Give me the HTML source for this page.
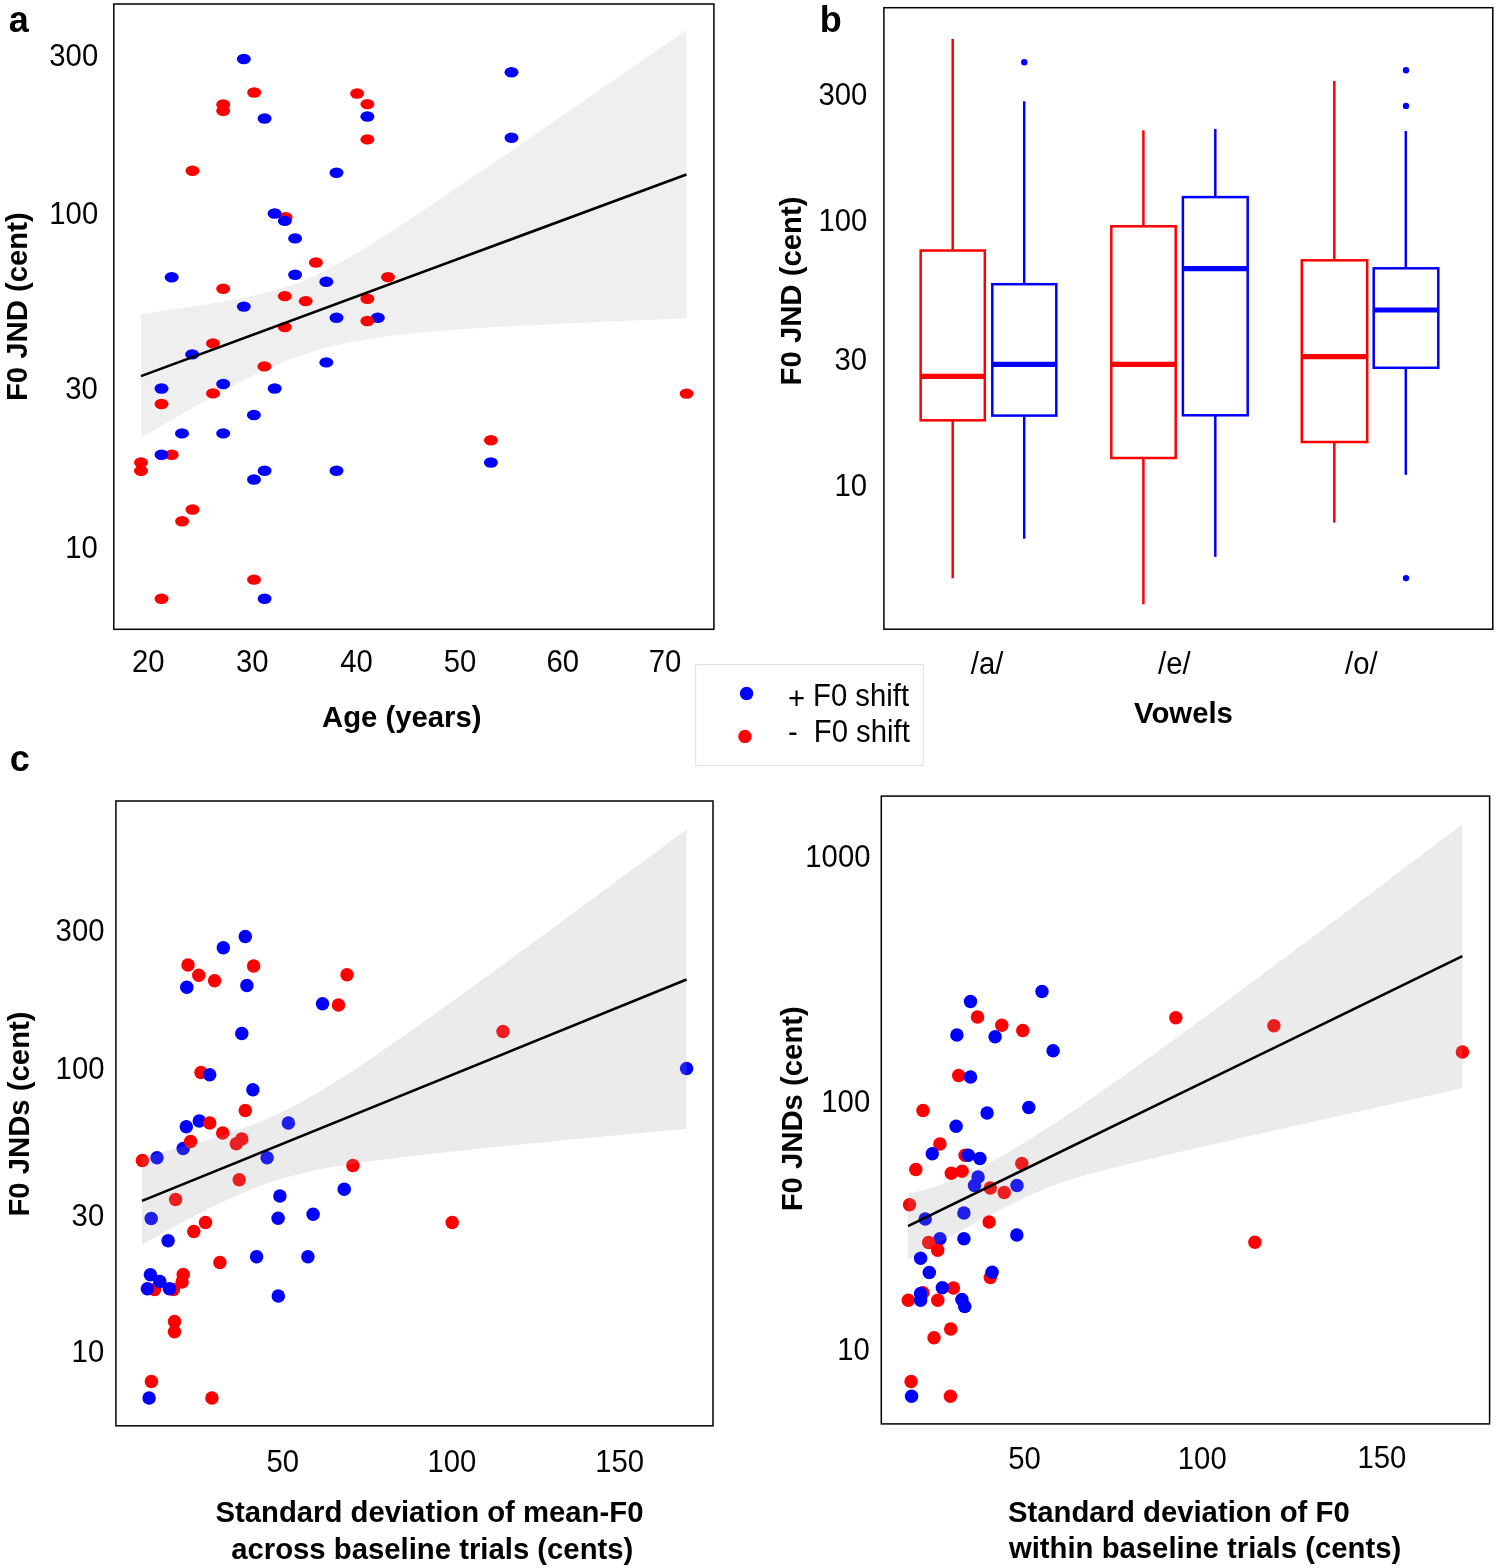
<!DOCTYPE html>
<html><head><meta charset="utf-8"><style>
html,body{margin:0;padding:0;background:#fff;}
svg{display:block;font-family:"Liberation Sans",sans-serif;will-change:transform;}
</style></head><body>
<svg width="1498" height="1568" viewBox="0 0 1498 1568">
<rect x="0" y="0" width="1498" height="1568" fill="#fff"/>
<polygon points="141.00,314.10 147.82,313.14 154.63,312.17 161.45,311.19 168.27,310.19 175.09,309.19 181.91,308.17 188.72,307.13 195.54,306.07 202.36,304.99 209.18,303.88 215.99,302.74 222.81,301.56 229.63,300.34 236.44,299.07 243.26,297.73 250.08,296.33 256.90,294.83 263.71,293.23 270.53,291.51 277.35,289.64 284.17,287.60 290.99,285.37 297.80,282.92 304.62,280.25 311.44,277.34 318.25,274.21 325.07,270.87 331.89,267.33 338.71,263.62 345.52,259.76 352.34,255.78 359.16,251.69 365.98,247.51 372.79,243.26 379.61,238.95 386.43,234.58 393.25,230.17 400.06,225.73 406.88,221.25 413.70,216.75 420.52,212.22 427.33,207.67 434.15,203.11 440.97,198.52 447.79,193.93 454.60,189.32 461.42,184.71 468.24,180.08 475.06,175.45 481.88,170.81 488.69,166.16 495.51,161.50 502.33,156.85 509.14,152.18 515.96,147.51 522.78,142.84 529.60,138.16 536.41,133.48 543.23,128.80 550.05,124.11 556.87,119.42 563.68,114.73 570.50,110.03 577.32,105.34 584.14,100.64 590.96,95.94 597.77,91.24 604.59,86.53 611.41,81.83 618.23,77.12 625.04,72.41 631.86,67.71 638.68,63.00 645.50,58.28 652.31,53.57 659.13,48.86 665.95,44.14 672.76,39.43 679.58,34.71 686.40,30.00 686.40,318.50 679.58,318.75 672.76,319.01 665.95,319.28 659.13,319.54 652.31,319.81 645.50,320.07 638.68,320.35 631.86,320.62 625.04,320.90 618.23,321.18 611.41,321.46 604.59,321.75 597.77,322.04 590.96,322.34 584.14,322.64 577.32,322.94 570.50,323.25 563.68,323.56 556.87,323.88 550.05,324.21 543.23,324.54 536.41,324.88 529.60,325.23 522.78,325.59 515.96,325.95 509.14,326.32 502.33,326.71 495.51,327.10 488.69,327.51 481.88,327.93 475.06,328.37 468.24,328.82 461.42,329.29 454.60,329.78 447.79,330.30 440.97,330.83 434.15,331.39 427.33,331.99 420.52,332.61 413.70,333.27 406.88,333.98 400.06,334.72 393.25,335.52 386.43,336.38 379.61,337.30 372.79,338.29 365.98,339.37 359.16,340.53 352.34,341.79 345.52,343.16 338.71,344.64 331.89,346.26 325.07,348.01 318.25,349.91 311.44,351.95 304.62,354.15 297.80,356.51 290.99,359.02 284.17,361.68 277.35,364.48 270.53,367.43 263.71,370.49 256.90,373.68 250.08,376.97 243.26,380.36 236.44,383.84 229.63,387.40 222.81,391.03 215.99,394.72 209.18,398.47 202.36,402.27 195.54,406.12 188.72,410.00 181.91,413.93 175.09,417.88 168.27,421.87 161.45,425.88 154.63,429.91 147.82,433.97 141.00,438.05" fill="#efefef"/>
<ellipse cx="254.20" cy="92.50" rx="7.0" ry="5.2" fill="#ff0000"/>
<ellipse cx="223.20" cy="104.50" rx="7.0" ry="5.2" fill="#ff0000"/>
<ellipse cx="223.20" cy="110.70" rx="7.0" ry="5.2" fill="#ff0000"/>
<ellipse cx="357.10" cy="93.50" rx="7.0" ry="5.2" fill="#ff0000"/>
<ellipse cx="367.40" cy="104.10" rx="7.0" ry="5.2" fill="#ff0000"/>
<ellipse cx="367.40" cy="139.40" rx="7.0" ry="5.2" fill="#ff0000"/>
<ellipse cx="192.50" cy="170.80" rx="7.0" ry="5.2" fill="#ff0000"/>
<ellipse cx="285.60" cy="217.30" rx="7.0" ry="5.2" fill="#ff0000"/>
<ellipse cx="315.90" cy="262.50" rx="7.0" ry="5.2" fill="#ff0000"/>
<ellipse cx="388.00" cy="277.10" rx="7.0" ry="5.2" fill="#ff0000"/>
<ellipse cx="223.20" cy="288.70" rx="7.0" ry="5.2" fill="#ff0000"/>
<ellipse cx="284.80" cy="296.10" rx="7.0" ry="5.2" fill="#ff0000"/>
<ellipse cx="305.70" cy="301.10" rx="7.0" ry="5.2" fill="#ff0000"/>
<ellipse cx="367.40" cy="298.70" rx="7.0" ry="5.2" fill="#ff0000"/>
<ellipse cx="284.80" cy="327.10" rx="7.0" ry="5.2" fill="#ff0000"/>
<ellipse cx="213.00" cy="343.40" rx="7.0" ry="5.2" fill="#ff0000"/>
<ellipse cx="264.40" cy="366.40" rx="7.0" ry="5.2" fill="#ff0000"/>
<ellipse cx="213.00" cy="393.40" rx="7.0" ry="5.2" fill="#ff0000"/>
<ellipse cx="161.50" cy="404.00" rx="7.0" ry="5.2" fill="#ff0000"/>
<ellipse cx="686.60" cy="393.60" rx="7.0" ry="5.2" fill="#ff0000"/>
<ellipse cx="171.70" cy="454.70" rx="7.0" ry="5.2" fill="#ff0000"/>
<ellipse cx="141.00" cy="462.50" rx="7.0" ry="5.2" fill="#ff0000"/>
<ellipse cx="141.00" cy="470.70" rx="7.0" ry="5.2" fill="#ff0000"/>
<ellipse cx="192.50" cy="509.50" rx="7.0" ry="5.2" fill="#ff0000"/>
<ellipse cx="182.10" cy="521.20" rx="7.0" ry="5.2" fill="#ff0000"/>
<ellipse cx="254.00" cy="579.60" rx="7.0" ry="5.2" fill="#ff0000"/>
<ellipse cx="161.50" cy="598.70" rx="7.0" ry="5.2" fill="#ff0000"/>
<ellipse cx="490.90" cy="440.30" rx="7.0" ry="5.2" fill="#ff0000"/>
<ellipse cx="243.80" cy="59.00" rx="7.0" ry="5.2" fill="#0000ff"/>
<ellipse cx="264.60" cy="118.50" rx="7.0" ry="5.2" fill="#0000ff"/>
<ellipse cx="367.40" cy="116.50" rx="7.0" ry="5.2" fill="#0000ff"/>
<ellipse cx="336.50" cy="172.80" rx="7.0" ry="5.2" fill="#0000ff"/>
<ellipse cx="274.60" cy="213.50" rx="7.0" ry="5.2" fill="#0000ff"/>
<ellipse cx="284.80" cy="220.90" rx="7.0" ry="5.2" fill="#0000ff"/>
<ellipse cx="511.50" cy="72.30" rx="7.0" ry="5.2" fill="#0000ff"/>
<ellipse cx="511.50" cy="137.80" rx="7.0" ry="5.2" fill="#0000ff"/>
<ellipse cx="295.10" cy="238.40" rx="7.0" ry="5.2" fill="#0000ff"/>
<ellipse cx="171.70" cy="277.30" rx="7.0" ry="5.2" fill="#0000ff"/>
<ellipse cx="295.10" cy="274.70" rx="7.0" ry="5.2" fill="#0000ff"/>
<ellipse cx="326.30" cy="281.70" rx="7.0" ry="5.2" fill="#0000ff"/>
<ellipse cx="243.80" cy="306.60" rx="7.0" ry="5.2" fill="#0000ff"/>
<ellipse cx="336.50" cy="317.70" rx="7.0" ry="5.2" fill="#0000ff"/>
<ellipse cx="377.80" cy="317.70" rx="7.0" ry="5.2" fill="#0000ff"/>
<ellipse cx="192.20" cy="354.40" rx="7.0" ry="5.2" fill="#0000ff"/>
<ellipse cx="326.30" cy="362.40" rx="7.0" ry="5.2" fill="#0000ff"/>
<ellipse cx="223.20" cy="384.00" rx="7.0" ry="5.2" fill="#0000ff"/>
<ellipse cx="161.50" cy="388.50" rx="7.0" ry="5.2" fill="#0000ff"/>
<ellipse cx="274.70" cy="388.50" rx="7.0" ry="5.2" fill="#0000ff"/>
<ellipse cx="253.90" cy="415.00" rx="7.0" ry="5.2" fill="#0000ff"/>
<ellipse cx="182.00" cy="433.40" rx="7.0" ry="5.2" fill="#0000ff"/>
<ellipse cx="223.20" cy="433.40" rx="7.0" ry="5.2" fill="#0000ff"/>
<ellipse cx="161.50" cy="454.70" rx="7.0" ry="5.2" fill="#0000ff"/>
<ellipse cx="264.60" cy="470.70" rx="7.0" ry="5.2" fill="#0000ff"/>
<ellipse cx="254.00" cy="479.50" rx="7.0" ry="5.2" fill="#0000ff"/>
<ellipse cx="336.50" cy="470.70" rx="7.0" ry="5.2" fill="#0000ff"/>
<ellipse cx="264.60" cy="598.70" rx="7.0" ry="5.2" fill="#0000ff"/>
<ellipse cx="490.90" cy="462.50" rx="7.0" ry="5.2" fill="#0000ff"/>
<ellipse cx="367.40" cy="321.00" rx="7.0" ry="5.2" fill="#ff0000"/>
<line x1="141.00" y1="376.10" x2="686.40" y2="174.57" stroke="#000" stroke-width="2.6" stroke-linecap="butt"/>
<rect x="113.80" y="4.00" width="600.10" height="625.30" fill="none" stroke="#000" stroke-width="1.5"/>
<text x="8.80" y="32.00" font-weight="bold" font-size="36">a</text>
<text transform="translate(49.30,65.65) scale(1,1.045)" font-weight="normal" font-size="29.3">300</text>
<text transform="translate(49.30,223.50) scale(1,1.045)" font-weight="normal" font-size="29.3">100</text>
<text transform="translate(65.30,399.10) scale(1,1.045)" font-weight="normal" font-size="29.3">30</text>
<text transform="translate(65.30,558.25) scale(1,1.045)" font-weight="normal" font-size="29.3">10</text>
<text transform="translate(132.00,672.20) scale(1,1.045)" font-weight="normal" font-size="29.3">20</text>
<text transform="translate(236.00,672.20) scale(1,1.045)" font-weight="normal" font-size="29.3">30</text>
<text transform="translate(340.30,672.20) scale(1,1.045)" font-weight="normal" font-size="29.3">40</text>
<text transform="translate(443.70,672.20) scale(1,1.045)" font-weight="normal" font-size="29.3">50</text>
<text transform="translate(546.40,672.20) scale(1,1.045)" font-weight="normal" font-size="29.3">60</text>
<text transform="translate(648.80,672.20) scale(1,1.045)" font-weight="normal" font-size="29.3">70</text>
<text transform="translate(322.00,726.80) scale(1,1.03)" font-weight="bold" font-size="29.3">Age (years)</text>
<text transform="translate(26.80,401.05) rotate(-90) scale(1,1.03)" font-weight="bold" font-size="29.3">F0 JND (cent)</text>
<line x1="952.70" y1="39.00" x2="952.70" y2="250.50" stroke="#ff0000" stroke-width="2.5" stroke-linecap="butt"/>
<line x1="952.70" y1="420.30" x2="952.70" y2="578.30" stroke="#ff0000" stroke-width="2.5" stroke-linecap="butt"/>
<rect x="920.65" y="250.50" width="64.15" height="169.80" fill="none" stroke="#ff0000" stroke-width="2.5"/>
<line x1="920.65" y1="376.30" x2="984.80" y2="376.30" stroke="#ff0000" stroke-width="5.2" stroke-linecap="butt"/>
<line x1="1024.20" y1="101.30" x2="1024.20" y2="284.20" stroke="#0000ff" stroke-width="2.5" stroke-linecap="butt"/>
<line x1="1024.20" y1="415.60" x2="1024.20" y2="538.70" stroke="#0000ff" stroke-width="2.5" stroke-linecap="butt"/>
<rect x="992.30" y="284.20" width="64.00" height="131.40" fill="none" stroke="#0000ff" stroke-width="2.5"/>
<line x1="992.30" y1="364.40" x2="1056.30" y2="364.40" stroke="#0000ff" stroke-width="5.2" stroke-linecap="butt"/>
<line x1="1143.40" y1="130.30" x2="1143.40" y2="226.30" stroke="#ff0000" stroke-width="2.5" stroke-linecap="butt"/>
<line x1="1143.40" y1="458.00" x2="1143.40" y2="604.30" stroke="#ff0000" stroke-width="2.5" stroke-linecap="butt"/>
<rect x="1111.30" y="226.30" width="64.40" height="231.70" fill="none" stroke="#ff0000" stroke-width="2.5"/>
<line x1="1111.30" y1="364.40" x2="1175.70" y2="364.40" stroke="#ff0000" stroke-width="5.2" stroke-linecap="butt"/>
<line x1="1215.30" y1="128.90" x2="1215.30" y2="197.10" stroke="#0000ff" stroke-width="2.5" stroke-linecap="butt"/>
<line x1="1215.30" y1="415.30" x2="1215.30" y2="556.80" stroke="#0000ff" stroke-width="2.5" stroke-linecap="butt"/>
<rect x="1182.90" y="197.10" width="64.80" height="218.20" fill="none" stroke="#0000ff" stroke-width="2.5"/>
<line x1="1182.90" y1="268.70" x2="1247.70" y2="268.70" stroke="#0000ff" stroke-width="5.2" stroke-linecap="butt"/>
<line x1="1334.30" y1="80.90" x2="1334.30" y2="260.30" stroke="#ff0000" stroke-width="2.5" stroke-linecap="butt"/>
<line x1="1334.30" y1="442.00" x2="1334.30" y2="522.70" stroke="#ff0000" stroke-width="2.5" stroke-linecap="butt"/>
<rect x="1301.80" y="260.30" width="65.40" height="181.70" fill="none" stroke="#ff0000" stroke-width="2.5"/>
<line x1="1301.80" y1="356.70" x2="1367.20" y2="356.70" stroke="#ff0000" stroke-width="5.2" stroke-linecap="butt"/>
<line x1="1405.80" y1="131.00" x2="1405.80" y2="268.30" stroke="#0000ff" stroke-width="2.5" stroke-linecap="butt"/>
<line x1="1405.80" y1="367.80" x2="1405.80" y2="474.80" stroke="#0000ff" stroke-width="2.5" stroke-linecap="butt"/>
<rect x="1373.70" y="268.30" width="64.60" height="99.50" fill="none" stroke="#0000ff" stroke-width="2.5"/>
<line x1="1373.70" y1="310.00" x2="1438.30" y2="310.00" stroke="#0000ff" stroke-width="5.2" stroke-linecap="butt"/>
<circle cx="1406.00" cy="70.30" r="3.2" fill="#0000ff"/>
<circle cx="1406.00" cy="105.90" r="3.2" fill="#0000ff"/>
<circle cx="1406.00" cy="578.10" r="3.2" fill="#0000ff"/>
<circle cx="1024.30" cy="62.20" r="3.2" fill="#0000ff"/>
<rect x="883.90" y="7.70" width="608.90" height="621.50" fill="none" stroke="#000" stroke-width="1.5"/>
<text x="819.70" y="31.90" font-weight="bold" font-size="36">b</text>
<text transform="translate(818.50,104.55) scale(1,1.045)" font-weight="normal" font-size="29.3">300</text>
<text transform="translate(818.50,230.50) scale(1,1.045)" font-weight="normal" font-size="29.3">100</text>
<text transform="translate(834.50,370.00) scale(1,1.045)" font-weight="normal" font-size="29.3">30</text>
<text transform="translate(834.50,495.75) scale(1,1.045)" font-weight="normal" font-size="29.3">10</text>
<text transform="translate(970.80,673.50) scale(1,1.045)" font-weight="normal" font-size="29.3">/a/</text>
<text transform="translate(1158.00,673.50) scale(1,1.045)" font-weight="normal" font-size="29.3">/e/</text>
<text transform="translate(1345.00,673.50) scale(1,1.045)" font-weight="normal" font-size="29.3">/o/</text>
<text transform="translate(1134.10,722.70) scale(1,1.03)" font-weight="bold" font-size="29.3">Vowels</text>
<text transform="translate(801.30,385.40) rotate(-90) scale(1,1.03)" font-weight="bold" font-size="29.3">F0 JND (cent)</text>
<rect x="695.60" y="664.60" width="227.80" height="100.90" fill="#fff" stroke="#e3e3e3" stroke-width="1.2"/>
<circle cx="746.60" cy="693.50" r="6.7" fill="#0000ff"/>
<circle cx="745.00" cy="736.40" r="6.7" fill="#ff0000"/>
<text transform="translate(787.90,709.17) scale(1,1.045)" font-weight="normal" font-size="29.3">+</text>
<text transform="translate(813.00,705.90) scale(1,1.045)" font-weight="normal" font-size="29.3">F0 shift</text>
<text transform="translate(787.90,742.30) scale(1,1.045)" font-weight="normal" font-size="29.3">-</text>
<text transform="translate(813.80,742.30) scale(1,1.045)" font-weight="normal" font-size="29.3">F0 shift</text>
<text x="9.70" y="771.10" font-weight="bold" font-size="36">c</text>
<circle cx="188.00" cy="964.90" r="6.75" fill="#ff0000"/>
<circle cx="253.60" cy="966.00" r="6.75" fill="#ff0000"/>
<circle cx="198.80" cy="975.30" r="6.75" fill="#ff0000"/>
<circle cx="214.60" cy="980.70" r="6.75" fill="#ff0000"/>
<circle cx="347.00" cy="974.80" r="6.75" fill="#ff0000"/>
<circle cx="338.50" cy="1005.00" r="6.75" fill="#ff0000"/>
<circle cx="201.00" cy="1072.40" r="6.75" fill="#ff0000"/>
<circle cx="245.30" cy="1110.50" r="6.75" fill="#ff0000"/>
<circle cx="222.70" cy="1132.90" r="6.75" fill="#ff0000"/>
<circle cx="241.80" cy="1139.10" r="6.75" fill="#ff0000"/>
<circle cx="236.30" cy="1143.80" r="6.75" fill="#ff0000"/>
<circle cx="142.40" cy="1160.40" r="6.75" fill="#ff0000"/>
<circle cx="352.90" cy="1165.50" r="6.75" fill="#ff0000"/>
<circle cx="239.20" cy="1179.70" r="6.75" fill="#ff0000"/>
<circle cx="175.60" cy="1199.40" r="6.75" fill="#ff0000"/>
<circle cx="205.50" cy="1222.60" r="6.75" fill="#ff0000"/>
<circle cx="193.80" cy="1231.60" r="6.75" fill="#ff0000"/>
<circle cx="219.90" cy="1262.40" r="6.75" fill="#ff0000"/>
<circle cx="183.20" cy="1274.40" r="6.75" fill="#ff0000"/>
<circle cx="182.10" cy="1282.00" r="6.75" fill="#ff0000"/>
<circle cx="154.50" cy="1289.40" r="6.75" fill="#ff0000"/>
<circle cx="173.40" cy="1289.40" r="6.75" fill="#ff0000"/>
<circle cx="174.50" cy="1321.40" r="6.75" fill="#ff0000"/>
<circle cx="174.50" cy="1331.70" r="6.75" fill="#ff0000"/>
<circle cx="151.40" cy="1381.50" r="6.75" fill="#ff0000"/>
<circle cx="211.90" cy="1397.90" r="6.75" fill="#ff0000"/>
<circle cx="503.00" cy="1031.60" r="6.75" fill="#ff0000"/>
<circle cx="452.20" cy="1222.40" r="6.75" fill="#ff0000"/>
<circle cx="245.30" cy="936.40" r="6.75" fill="#0000ff"/>
<circle cx="223.30" cy="947.70" r="6.75" fill="#0000ff"/>
<circle cx="186.80" cy="987.30" r="6.75" fill="#0000ff"/>
<circle cx="246.90" cy="985.60" r="6.75" fill="#0000ff"/>
<circle cx="322.50" cy="1003.80" r="6.75" fill="#0000ff"/>
<circle cx="241.80" cy="1033.60" r="6.75" fill="#0000ff"/>
<circle cx="209.70" cy="1074.80" r="6.75" fill="#0000ff"/>
<circle cx="252.90" cy="1089.80" r="6.75" fill="#0000ff"/>
<circle cx="199.30" cy="1120.90" r="6.75" fill="#0000ff"/>
<circle cx="186.30" cy="1126.80" r="6.75" fill="#0000ff"/>
<circle cx="183.20" cy="1148.40" r="6.75" fill="#0000ff"/>
<circle cx="288.40" cy="1123.00" r="6.75" fill="#0000ff"/>
<circle cx="157.00" cy="1157.80" r="6.75" fill="#0000ff"/>
<circle cx="267.10" cy="1157.80" r="6.75" fill="#0000ff"/>
<circle cx="344.20" cy="1189.20" r="6.75" fill="#0000ff"/>
<circle cx="279.90" cy="1195.90" r="6.75" fill="#0000ff"/>
<circle cx="151.20" cy="1218.50" r="6.75" fill="#0000ff"/>
<circle cx="278.10" cy="1218.30" r="6.75" fill="#0000ff"/>
<circle cx="313.10" cy="1214.30" r="6.75" fill="#0000ff"/>
<circle cx="168.10" cy="1240.80" r="6.75" fill="#0000ff"/>
<circle cx="256.60" cy="1256.70" r="6.75" fill="#0000ff"/>
<circle cx="307.90" cy="1256.70" r="6.75" fill="#0000ff"/>
<circle cx="159.80" cy="1281.40" r="6.75" fill="#0000ff"/>
<circle cx="150.40" cy="1274.70" r="6.75" fill="#0000ff"/>
<circle cx="147.40" cy="1288.70" r="6.75" fill="#0000ff"/>
<circle cx="169.40" cy="1288.70" r="6.75" fill="#0000ff"/>
<circle cx="278.30" cy="1296.00" r="6.75" fill="#0000ff"/>
<circle cx="149.10" cy="1398.10" r="6.75" fill="#0000ff"/>
<circle cx="686.60" cy="1068.60" r="6.75" fill="#0000ff"/>
<circle cx="209.70" cy="1123.00" r="6.75" fill="#ff0000"/>
<circle cx="190.60" cy="1141.40" r="6.75" fill="#ff0000"/>
<polygon points="142.00,1157.05 148.81,1155.41 155.62,1153.75 162.42,1152.06 169.23,1150.34 176.04,1148.58 182.84,1146.79 189.65,1144.96 196.46,1143.08 203.27,1141.14 210.07,1139.14 216.88,1137.08 223.69,1134.93 230.50,1132.70 237.31,1130.37 244.11,1127.93 250.92,1125.36 257.73,1122.67 264.54,1119.84 271.34,1116.87 278.15,1113.74 284.96,1110.46 291.76,1107.02 298.57,1103.44 305.38,1099.72 312.19,1095.86 319.00,1091.89 325.80,1087.80 332.61,1083.61 339.42,1079.33 346.23,1074.96 353.03,1070.53 359.84,1066.04 366.65,1061.48 373.46,1056.88 380.26,1052.24 387.07,1047.55 393.88,1042.83 400.69,1038.08 407.49,1033.31 414.30,1028.51 421.11,1023.68 427.92,1018.84 434.72,1013.98 441.53,1009.11 448.34,1004.22 455.15,999.32 461.95,994.40 468.76,989.48 475.57,984.55 482.38,979.60 489.18,974.65 495.99,969.69 502.80,964.73 509.61,959.75 516.41,954.78 523.22,949.79 530.03,944.80 536.84,939.81 543.64,934.81 550.45,929.81 557.26,924.81 564.07,919.80 570.87,914.78 577.68,909.77 584.49,904.75 591.29,899.73 598.10,894.71 604.91,889.68 611.72,884.65 618.52,879.62 625.33,874.59 632.14,869.56 638.95,864.52 645.75,859.48 652.56,854.44 659.37,849.40 666.18,844.36 672.99,839.32 679.79,834.27 686.60,829.22 686.60,1128.69 679.79,1129.32 672.99,1129.95 666.18,1130.59 659.37,1131.22 652.56,1131.86 645.75,1132.49 638.95,1133.13 632.14,1133.77 625.33,1134.41 618.52,1135.05 611.72,1135.70 604.91,1136.34 598.10,1136.99 591.29,1137.64 584.49,1138.28 577.68,1138.94 570.87,1139.59 564.07,1140.25 557.26,1140.90 550.45,1141.56 543.64,1142.23 536.84,1142.89 530.03,1143.56 523.22,1144.23 516.41,1144.91 509.61,1145.59 502.80,1146.27 495.99,1146.96 489.18,1147.65 482.38,1148.34 475.57,1149.05 468.76,1149.76 461.95,1150.47 455.15,1151.19 448.34,1151.92 441.53,1152.66 434.72,1153.41 427.92,1154.17 421.11,1154.94 414.30,1155.73 407.49,1156.52 400.69,1157.34 393.88,1158.17 387.07,1159.03 380.26,1159.91 373.46,1160.81 366.65,1161.75 359.84,1162.72 353.03,1163.73 346.23,1164.78 339.42,1165.89 332.61,1167.06 325.80,1168.29 319.00,1169.61 312.19,1171.01 305.38,1172.52 298.57,1174.14 291.76,1175.89 284.96,1177.77 278.15,1179.81 271.34,1181.99 264.54,1184.34 257.73,1186.84 250.92,1189.50 244.11,1192.30 237.31,1195.24 230.50,1198.31 223.69,1201.48 216.88,1204.75 210.07,1208.11 203.27,1211.55 196.46,1215.05 189.65,1218.61 182.84,1222.22 176.04,1225.87 169.23,1229.56 162.42,1233.29 155.62,1237.05 148.81,1240.83 142.00,1244.63" fill="#999999" fill-opacity="0.2"/>
<line x1="142.00" y1="1200.90" x2="686.60" y2="979.50" stroke="#000" stroke-width="2.6" stroke-linecap="butt"/>
<rect x="115.90" y="801.00" width="597.10" height="624.80" fill="none" stroke="#000" stroke-width="1.5"/>
<text transform="translate(55.60,941.35) scale(1,1.045)" font-weight="normal" font-size="29.3">300</text>
<text transform="translate(55.60,1078.85) scale(1,1.045)" font-weight="normal" font-size="29.3">100</text>
<text transform="translate(71.60,1225.65) scale(1,1.045)" font-weight="normal" font-size="29.3">30</text>
<text transform="translate(71.60,1361.55) scale(1,1.045)" font-weight="normal" font-size="29.3">10</text>
<text transform="translate(266.40,1471.75) scale(1,1.045)" font-weight="normal" font-size="29.3">50</text>
<text transform="translate(427.50,1471.75) scale(1,1.045)" font-weight="normal" font-size="29.3">100</text>
<text transform="translate(595.20,1471.75) scale(1,1.045)" font-weight="normal" font-size="29.3">150</text>
<text transform="translate(215.40,1521.60) scale(1,1.03)" font-weight="bold" font-size="29.3">Standard deviation of mean-F0</text>
<text transform="translate(231.20,1558.60) scale(1,1.03)" font-weight="bold" font-size="29.3">across baseline trials (cents)</text>
<text transform="translate(29.30,1216.55) rotate(-90) scale(1,1.03)" font-weight="bold" font-size="29.3">F0 JNDs (cent)</text>
<circle cx="977.50" cy="1016.90" r="6.75" fill="#ff0000"/>
<circle cx="1001.80" cy="1025.30" r="6.75" fill="#ff0000"/>
<circle cx="1022.80" cy="1030.40" r="6.75" fill="#ff0000"/>
<circle cx="958.70" cy="1075.40" r="6.75" fill="#ff0000"/>
<circle cx="923.00" cy="1110.60" r="6.75" fill="#ff0000"/>
<circle cx="939.90" cy="1143.90" r="6.75" fill="#ff0000"/>
<circle cx="965.10" cy="1155.20" r="6.75" fill="#ff0000"/>
<circle cx="915.80" cy="1169.40" r="6.75" fill="#ff0000"/>
<circle cx="951.30" cy="1173.30" r="6.75" fill="#ff0000"/>
<circle cx="962.10" cy="1171.20" r="6.75" fill="#ff0000"/>
<circle cx="1021.80" cy="1163.60" r="6.75" fill="#ff0000"/>
<circle cx="990.30" cy="1188.00" r="6.75" fill="#ff0000"/>
<circle cx="1004.20" cy="1192.50" r="6.75" fill="#ff0000"/>
<circle cx="909.50" cy="1204.70" r="6.75" fill="#ff0000"/>
<circle cx="989.10" cy="1221.90" r="6.75" fill="#ff0000"/>
<circle cx="990.30" cy="1277.60" r="6.75" fill="#ff0000"/>
<circle cx="953.40" cy="1288.00" r="6.75" fill="#ff0000"/>
<circle cx="923.00" cy="1292.80" r="6.75" fill="#ff0000"/>
<circle cx="908.30" cy="1300.20" r="6.75" fill="#ff0000"/>
<circle cx="937.80" cy="1300.20" r="6.75" fill="#ff0000"/>
<circle cx="950.70" cy="1329.10" r="6.75" fill="#ff0000"/>
<circle cx="934.00" cy="1337.80" r="6.75" fill="#ff0000"/>
<circle cx="911.10" cy="1381.60" r="6.75" fill="#ff0000"/>
<circle cx="950.40" cy="1396.20" r="6.75" fill="#ff0000"/>
<circle cx="1175.80" cy="1017.70" r="6.75" fill="#ff0000"/>
<circle cx="1273.90" cy="1025.80" r="6.75" fill="#ff0000"/>
<circle cx="1462.40" cy="1051.90" r="6.75" fill="#ff0000"/>
<circle cx="1254.90" cy="1242.30" r="6.75" fill="#ff0000"/>
<circle cx="1042.00" cy="991.60" r="6.75" fill="#0000ff"/>
<circle cx="970.50" cy="1001.50" r="6.75" fill="#0000ff"/>
<circle cx="956.90" cy="1034.90" r="6.75" fill="#0000ff"/>
<circle cx="995.10" cy="1036.70" r="6.75" fill="#0000ff"/>
<circle cx="1053.10" cy="1050.70" r="6.75" fill="#0000ff"/>
<circle cx="970.50" cy="1076.90" r="6.75" fill="#0000ff"/>
<circle cx="987.10" cy="1113.00" r="6.75" fill="#0000ff"/>
<circle cx="1028.80" cy="1107.60" r="6.75" fill="#0000ff"/>
<circle cx="956.10" cy="1126.20" r="6.75" fill="#0000ff"/>
<circle cx="932.30" cy="1153.70" r="6.75" fill="#0000ff"/>
<circle cx="968.30" cy="1155.20" r="6.75" fill="#0000ff"/>
<circle cx="979.90" cy="1158.60" r="6.75" fill="#0000ff"/>
<circle cx="978.10" cy="1176.90" r="6.75" fill="#0000ff"/>
<circle cx="974.50" cy="1185.60" r="6.75" fill="#0000ff"/>
<circle cx="1017.00" cy="1185.60" r="6.75" fill="#0000ff"/>
<circle cx="925.20" cy="1218.90" r="6.75" fill="#0000ff"/>
<circle cx="963.90" cy="1212.90" r="6.75" fill="#0000ff"/>
<circle cx="939.90" cy="1238.70" r="6.75" fill="#0000ff"/>
<circle cx="963.90" cy="1238.70" r="6.75" fill="#0000ff"/>
<circle cx="1016.80" cy="1235.10" r="6.75" fill="#0000ff"/>
<circle cx="920.60" cy="1258.30" r="6.75" fill="#0000ff"/>
<circle cx="929.30" cy="1272.40" r="6.75" fill="#0000ff"/>
<circle cx="992.10" cy="1272.20" r="6.75" fill="#0000ff"/>
<circle cx="942.30" cy="1287.80" r="6.75" fill="#0000ff"/>
<circle cx="920.60" cy="1293.60" r="6.75" fill="#0000ff"/>
<circle cx="920.60" cy="1300.20" r="6.75" fill="#0000ff"/>
<circle cx="961.90" cy="1299.60" r="6.75" fill="#0000ff"/>
<circle cx="964.70" cy="1306.60" r="6.75" fill="#0000ff"/>
<circle cx="911.60" cy="1396.20" r="6.75" fill="#0000ff"/>
<circle cx="928.70" cy="1242.40" r="6.75" fill="#ff0000"/>
<circle cx="937.70" cy="1250.20" r="6.75" fill="#ff0000"/>
<polygon points="908.00,1193.71 914.93,1192.23 921.86,1190.52 928.79,1188.60 935.72,1186.45 942.65,1184.09 949.58,1181.50 956.51,1178.71 963.44,1175.72 970.37,1172.54 977.30,1169.19 984.23,1165.67 991.16,1162.00 998.09,1158.19 1005.02,1154.26 1011.95,1150.21 1018.88,1146.06 1025.81,1141.82 1032.74,1137.50 1039.67,1133.09 1046.60,1128.62 1053.53,1124.09 1060.46,1119.50 1067.39,1114.86 1074.32,1110.17 1081.25,1105.45 1088.18,1100.68 1095.11,1095.88 1102.04,1091.05 1108.97,1086.19 1115.90,1081.30 1122.83,1076.39 1129.76,1071.46 1136.69,1066.51 1143.62,1061.53 1150.55,1056.54 1157.48,1051.54 1164.41,1046.52 1171.34,1041.49 1178.27,1036.44 1185.20,1031.38 1192.13,1026.31 1199.06,1021.23 1205.99,1016.14 1212.92,1011.04 1219.85,1005.93 1226.78,1000.82 1233.71,995.70 1240.64,990.57 1247.57,985.43 1254.50,980.29 1261.43,975.14 1268.36,969.99 1275.29,964.83 1282.22,959.66 1289.15,954.49 1296.08,949.32 1303.01,944.14 1309.94,938.96 1316.87,933.78 1323.80,928.59 1330.73,923.40 1337.66,918.20 1344.59,913.00 1351.52,907.80 1358.45,902.60 1365.38,897.39 1372.31,892.18 1379.24,886.97 1386.17,881.75 1393.10,876.54 1400.03,871.32 1406.96,866.10 1413.89,860.88 1420.82,855.65 1427.75,850.42 1434.68,845.20 1441.61,839.97 1448.54,834.73 1455.47,829.50 1462.40,824.27 1462.40,1088.27 1455.47,1089.81 1448.54,1091.36 1441.61,1092.91 1434.68,1094.46 1427.75,1096.01 1420.82,1097.56 1413.89,1099.11 1406.96,1100.66 1400.03,1102.21 1393.10,1103.76 1386.17,1105.31 1379.24,1106.86 1372.31,1108.41 1365.38,1109.96 1358.45,1111.51 1351.52,1113.07 1344.59,1114.62 1337.66,1116.17 1330.73,1117.73 1323.80,1119.28 1316.87,1120.84 1309.94,1122.40 1303.01,1123.96 1296.08,1125.51 1289.15,1127.07 1282.22,1128.64 1275.29,1130.20 1268.36,1131.76 1261.43,1133.33 1254.50,1134.89 1247.57,1136.46 1240.64,1138.03 1233.71,1139.60 1226.78,1141.18 1219.85,1142.75 1212.92,1144.33 1205.99,1145.92 1199.06,1147.51 1192.13,1149.10 1185.20,1150.69 1178.27,1152.29 1171.34,1153.90 1164.41,1155.52 1157.48,1157.14 1150.55,1158.77 1143.62,1160.42 1136.69,1162.08 1129.76,1163.75 1122.83,1165.45 1115.90,1167.17 1108.97,1168.92 1102.04,1170.71 1095.11,1172.54 1088.18,1174.44 1081.25,1176.41 1074.32,1178.47 1067.39,1180.65 1060.46,1182.97 1053.53,1185.46 1046.60,1188.11 1039.67,1190.95 1032.74,1193.95 1025.81,1197.11 1018.88,1200.40 1011.95,1203.79 1005.02,1207.27 998.09,1210.81 991.16,1214.41 984.23,1218.05 977.30,1221.73 970.37,1225.43 963.44,1229.15 956.51,1232.90 949.58,1236.66 942.65,1240.43 935.72,1244.21 928.79,1248.00 921.86,1251.80 914.93,1255.61 908.00,1259.42" fill="#999999" fill-opacity="0.2"/>
<line x1="908.00" y1="1226.10" x2="1462.40" y2="956.20" stroke="#000" stroke-width="2.6" stroke-linecap="butt"/>
<rect x="881.30" y="796.10" width="608.30" height="627.80" fill="none" stroke="#000" stroke-width="1.5"/>
<text transform="translate(805.30,866.85) scale(1,1.045)" font-weight="normal" font-size="29.3">1000</text>
<text transform="translate(821.30,1112.20) scale(1,1.045)" font-weight="normal" font-size="29.3">100</text>
<text transform="translate(837.30,1360.45) scale(1,1.045)" font-weight="normal" font-size="29.3">10</text>
<text transform="translate(1008.25,1469.15) scale(1,1.045)" font-weight="normal" font-size="29.3">50</text>
<text transform="translate(1177.80,1469.15) scale(1,1.045)" font-weight="normal" font-size="29.3">100</text>
<text transform="translate(1357.40,1468.05) scale(1,1.045)" font-weight="normal" font-size="29.3">150</text>
<text transform="translate(1007.90,1521.80) scale(1,1.03)" font-weight="bold" font-size="29.3">Standard deviation of F0</text>
<text transform="translate(1008.90,1557.80) scale(1,1.03)" font-weight="bold" font-size="29.3">within baseline trials (cents)</text>
<text transform="translate(801.60,1211.30) rotate(-90) scale(1,1.03)" font-weight="bold" font-size="29.3">F0 JNDs (cent)</text>
</svg>
</body></html>
